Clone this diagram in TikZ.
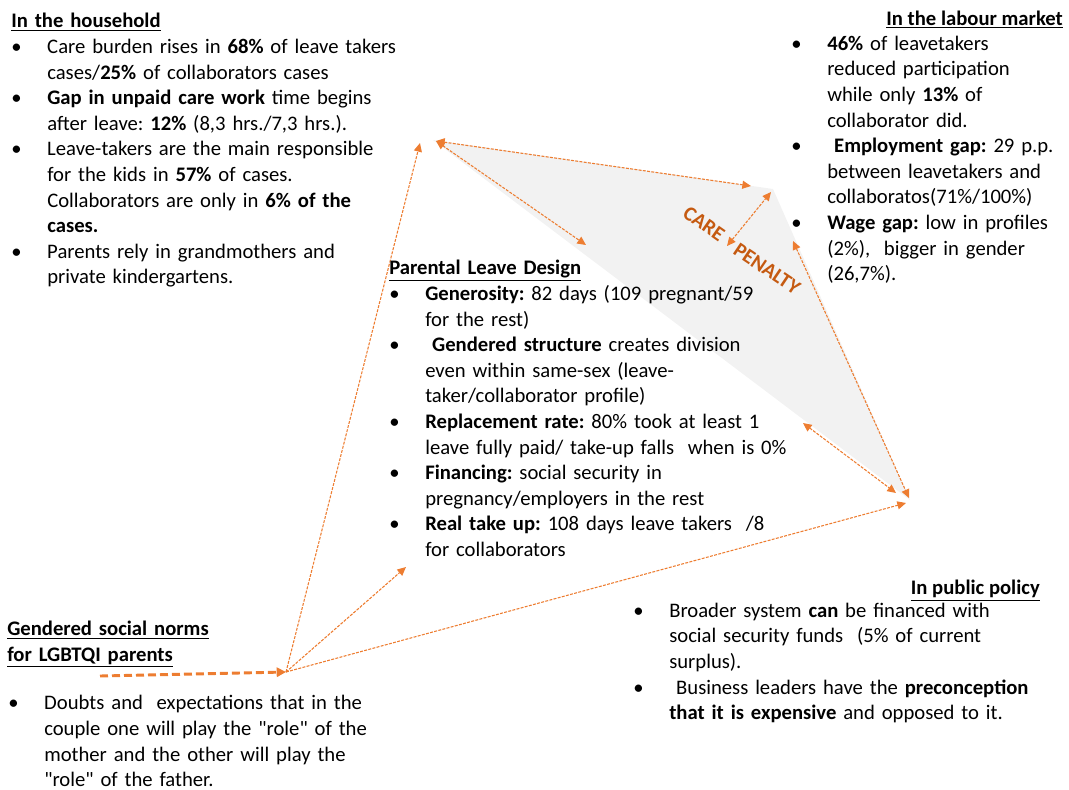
\documentclass[tikz,border=0pt]{standalone}
\usepackage{fontspec}
\setmainfont{Carlito}
\usetikzlibrary{arrows.meta}
\definecolor{orangeA}{HTML}{ED7D31}
\definecolor{orangeD}{HTML}{C55A11}
\newcommand{\bul}[1]{\par\hangindent=27pt\hangafter=1\noindent\hbox to 27pt{\strut\textbullet\hfil}#1\par}
\newcommand{\hd}[1]{\strut\underline{\textbf{#1}}}
\newcommand{\qq}{\textquotedbl}
\tikzset{
  txt/.style={inner sep=0pt, anchor=north west, align=left, text width=300pt, font=\fontsize{15.5}{19.2}\selectfont\frenchspacing},
  ttl/.style={inner sep=0pt, anchor=base east, font=\fontsize{15.5}{19.2}\selectfont},
  link/.style={draw=orangeA, line width=0.8pt, dash pattern=on 2.2pt off 1pt},
  tip/.style={-{Triangle[length=6.5pt,width=6pt]}},
  tips/.style={{Triangle[length=6.5pt,width=6pt]}-{Triangle[length=6.5pt,width=6pt]}},
  penal/.style={text=orangeD, font=\fontsize{15.5}{19.2}\selectfont\bfseries, inner sep=0pt}
}
\begin{document}
\begin{tikzpicture}[x=0.75pt,y=-0.75pt]
  \useasboundingbox (0,0) rectangle (1069,789);
  \fill[black!5] (433,140)--(773,189)--(910,500)--cycle;

  \coordinate (hub) at (286,672);
  \coordinate (normL) at (100,676);
  \coordinate (topL) at (420,143);
  \coordinate (apex) at (436,141);
  \coordinate (topR) at (751,186);
  \coordinate (midD) at (586,245);
  \coordinate (cpA) at (727,246);
  \coordinate (cpB) at (771,192);
  \coordinate (rUp) at (793,241);
  \coordinate (rDn) at (909,498);
  \coordinate (rMid) at (803,423);
  \coordinate (rMidE) at (896,493);
  \coordinate (rHub) at (906,503);
  \coordinate (desg) at (406,567);

  \draw[link,tips] (apex)--(topR);
  \draw[link,tips] (apex)--(midD);
  \draw[link,tips] (cpA)--(cpB);
  \draw[link,tips] (rUp)--(rDn);
  \draw[link,tips] (rMid)--(rMidE);
  \draw[link,tip] (hub)--(topL);
  \draw[link,tip] (hub)--(desg);
  \draw[link,tip] (hub)--(rHub);
  \draw[orangeA, line width=2.2pt, dash pattern=on 6pt off 3pt, -{Triangle[length=7pt,width=7pt]}] (normL)--(hub);

  \node[penal, rotate=-35] (care) at (704,224) {CARE};
  \node[penal, rotate=-34] (penalty) at (767,269) {PENALTY};

  \node[txt] (hhold) at (11,9.8) {\noindent\hd{In the household}
    \bul{Care burden rises in \textbf{68\%} of leave takers\newline cases/\textbf{25\%} of collaborators cases}
    \bul{\textbf{Gap in unpaid care work} time begins\newline after leave: \textbf{12\%} (8,3 hrs./7,3 hrs.).}
    \bul{Leave-takers are the main responsible\newline for the kids in \textbf{57\%} of cases.\newline Collaborators are only in \textbf{6\% of the}\newline \textbf{cases.}}
    \bul{Parents rely in grandmothers and\newline private kindergartens.}};

  \node[ttl] (labourT) at (1063,25.7) {\hd{In the labour market}};
  \node[txt] (labour) at (791,24.5) {\bul{\textbf{46\%} of leavetakers\newline reduced participation\newline while only \textbf{13\%} of\newline collaborator did.}
    \bul{~\textbf{Employment gap:} 29 p.p.\newline between leavetakers and\newline collaboratos(71\%/100\%)}
    \bul{\textbf{Wage gap:} low in profiles\newline (2\%), ~bigger in gender\newline (26,7\%).}};

  \node[txt] (design) at (389,256.8) {\noindent\hd{Parental Leave Design}
    \bul{\textbf{Generosity:} 82 days (109 pregnant/59\newline for the rest)}
    \bul{~\textbf{Gendered structure} creates division\newline even within same-sex (leave-\newline taker/collaborator profile)}
    \bul{\textbf{Replacement rate:} 80\% took at least 1\newline leave fully paid/ take-up falls ~when is 0\%}
    \bul{\textbf{Financing:} social security in\newline pregnancy/employers in the rest}
    \bul{\textbf{Real take up:} 108 days leave takers ~/8\newline for collaborators}};

  \node[txt] (normsT) at (7,617.8) {\hd{Gendered social norms}\newline\hd{for LGBTQI parents}};
  \node[txt] (norms) at (8,684) {\bul{Doubts and ~expectations that in the\newline couple one will play the \qq role\qq{} of the\newline mother and the other will play the\newline \qq role\qq{} of the father.}};

  \node[ttl] (policyT) at (1040,594.7) {\hd{In public policy}};
  \node[txt] (policy) at (633,591.5) {\bul{Broader system \textbf{can} be financed with\newline social security funds ~(5\% of current\newline surplus).}
    \bul{~Business leaders have the \textbf{preconception}\newline \textbf{that it is expensive} and opposed to it.}};
\end{tikzpicture}
\end{document}
